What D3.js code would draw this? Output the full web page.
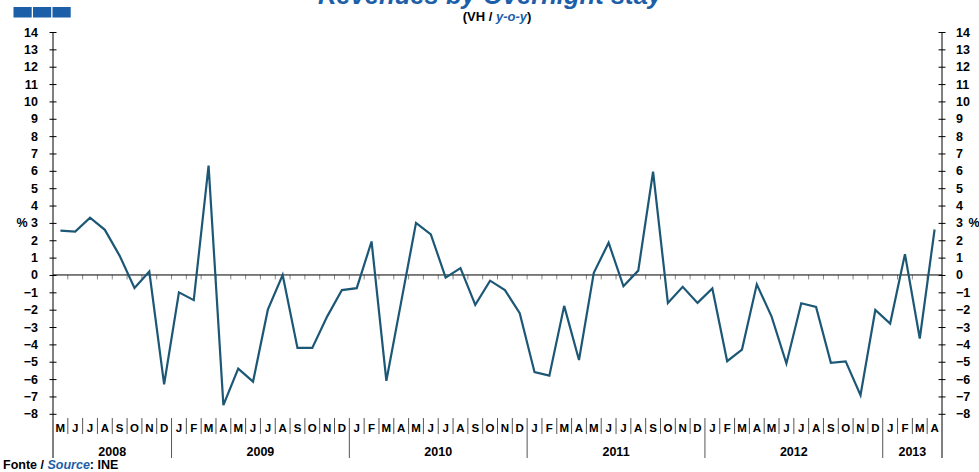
<!DOCTYPE html>
<html>
<head>
<meta charset="utf-8">
<script src="https://cdn.jsdelivr.net/npm/d3@7"></script>
<style>
  html, body { margin: 0; padding: 0; background: #fff; }
  svg { display: block; font-family: "Liberation Sans", Arial, sans-serif; }
</style>
</head>
<body>
<svg id="chart" width="979" height="472"></svg>
<script>
// Monthly periods, May 2008 – April 2013
const periods = [
  "2008-05","2008-06","2008-07","2008-08","2008-09","2008-10","2008-11","2008-12",
  "2009-01","2009-02","2009-03","2009-04","2009-05","2009-06","2009-07","2009-08","2009-09","2009-10","2009-11","2009-12",
  "2010-01","2010-02","2010-03","2010-04","2010-05","2010-06","2010-07","2010-08","2010-09","2010-10","2010-11","2010-12",
  "2011-01","2011-02","2011-03","2011-04","2011-05","2011-06","2011-07","2011-08","2011-09","2011-10","2011-11","2011-12",
  "2012-01","2012-02","2012-03","2012-04","2012-05","2012-06","2012-07","2012-08","2012-09","2012-10","2012-11","2012-12",
  "2013-01","2013-02","2013-03","2013-04"
];

// Revenue per overnight stay, year-on-year change (%)
const revenueYoY = [
  2.55, 2.5, 3.3, 2.6, 1.1, -0.75, 0.2, -6.3,
  -1.0, -1.45, 6.3, -7.5, -5.4, -6.15, -2.0, 0.0, -4.2, -4.2, -2.4, -0.87,
  -0.76, 1.93, -6.1, -1.55, 3.0, 2.34, -0.15, 0.4, -1.72, -0.33, -0.87, -2.2,
  -5.6, -5.8, -1.78, -4.9, 0.12, 1.86, -0.65, 0.25, 5.95, -1.62, -0.68, -1.61,
  -0.78, -4.97, -4.3, -0.54, -2.4, -5.1, -1.63, -1.84, -5.06, -4.98, -6.93, -2.02,
  -2.8, 1.2, -3.66, 2.62
];

const monthInitials = ["J","F","M","A","M","J","J","A","S","O","N","D"];
const yTicks = [-8,-7,-6,-5,-4,-3,-2,-1,0,1,2,3,4,5,6,7,8,9,10,11,12,13,14];

const titleText = "Revenues by Overnight stay";
const sourceLabel = "INE";

const svg = d3.select("#chart");
const plotLeft = 53, plotRight = 942, plotTop = 32, plotBottom = 413.8;
const navy = "#1d5ea8";
const lineColor = "#1c5876";

const x = d3.scaleBand().domain(periods).range([plotLeft, plotRight]).paddingInner(0).paddingOuter(0);
const y = d3.scaleLinear().domain([-8, 14]).range([plotBottom, plotTop]);
const bw = x.bandwidth();

// Header blocks
svg.append("g").selectAll("rect").data([0, 1, 2]).join("rect")
  .attr("x", d => 13.5 + d * 19.5).attr("y", 7)
  .attr("width", 18.2).attr("height", 10.5)
  .attr("fill", navy);

// Title (partially above the top edge)
svg.append("text")
  .attr("x", 490).attr("y", 4)
  .attr("text-anchor", "middle")
  .attr("font-size", 25.6).attr("font-weight", "bold").attr("font-style", "italic")
  .attr("fill", navy)
  .text(titleText);

const sub = svg.append("text")
  .attr("x", 497).attr("y", 20.5)
  .attr("text-anchor", "middle")
  .attr("font-size", 13).attr("font-weight", "bold").attr("fill", "#000");
sub.append("tspan").text("(VH / ");
sub.append("tspan").attr("fill", navy).attr("font-style", "italic").text("y-o-y");
sub.append("tspan").text(")");

// Y axes (left and right)
const axisFont = g => g.selectAll("text")
  .attr("font-size", 12.5).attr("font-weight", "bold").attr("fill", "#000")
  .attr("font-family", "'Liberation Sans', Arial, sans-serif");

const yLeft = svg.append("g").attr("transform", `translate(${plotLeft},0)`)
  .call(d3.axisLeft(y).tickValues(yTicks).tickFormat(d3.format("d")).tickSizeOuter(0).tickSizeInner(4).tickPadding(11));
yLeft.select(".domain").remove();
yLeft.selectAll(".tick line").attr("x1", -3.5).attr("x2", 3.5).attr("stroke", "#000");
yLeft.call(axisFont);

const yRight = svg.append("g").attr("transform", `translate(${plotRight},0)`)
  .call(d3.axisRight(y).tickValues(yTicks).tickFormat(d3.format("d")).tickSizeOuter(0).tickSizeInner(4).tickPadding(10));
yRight.select(".domain").remove();
yRight.selectAll(".tick line").attr("x1", -3.5).attr("x2", 3.5).attr("stroke", "#000");
yRight.call(axisFont);

// Vertical axis lines, extended through the category rows
[plotLeft, plotRight].forEach(px => {
  svg.append("line").attr("x1", px).attr("x2", px)
    .attr("y1", y(14)).attr("y2", 458)
    .attr("stroke", "#000").attr("stroke-width", 1);
});

// Unit labels
svg.append("text").attr("x", 22).attr("y", y(3) + 4.5)
  .attr("text-anchor", "middle").attr("font-size", 12.5).attr("font-weight", "bold").text("%");
svg.append("text").attr("x", 974).attr("y", y(3) + 4.5)
  .attr("text-anchor", "middle").attr("font-size", 12.5).attr("font-weight", "bold").text("%");

// Zero line with small month ticks
const boundaries = periods.slice(1).map(p => x(p));
svg.append("g").selectAll("line").data(boundaries).join("line")
  .attr("x1", d => d).attr("x2", d => d)
  .attr("y1", y(0)).attr("y2", y(0) + 4.5)
  .attr("stroke", "#888").attr("stroke-width", 1);
svg.append("line").attr("x1", plotLeft).attr("x2", plotRight)
  .attr("y1", y(0)).attr("y2", y(0))
  .attr("stroke", "#000").attr("stroke-width", 1);

// Category axis: month initials and years
const monthRowTop = 418, monthRowBottom = 434, yearRowBottom = 458;
const isYearStart = p => p.endsWith("-01");
svg.append("g").selectAll("line").data(periods.slice(1)).join("line")
  .attr("x1", p => x(p)).attr("x2", p => x(p))
  .attr("y1", monthRowTop)
  .attr("y2", p => isYearStart(p) ? yearRowBottom : monthRowBottom)
  .attr("stroke", "#555").attr("stroke-width", 1);

svg.append("g").selectAll("text").data(periods).join("text")
  .attr("x", p => x(p) + bw / 2).attr("y", 431.5)
  .attr("text-anchor", "middle")
  .attr("font-size", 11.5).attr("font-weight", "bold").attr("fill", "#000")
  .text(p => monthInitials[+p.slice(5) - 1]);

const yearGroups = d3.groups(periods, p => p.slice(0, 4));
svg.append("g").selectAll("text").data(yearGroups).join("text")
  .attr("x", ([, ps]) => (x(ps[0]) + x(ps[ps.length - 1]) + bw) / 2)
  .attr("y", 456)
  .attr("text-anchor", "middle")
  .attr("font-size", 12.5).attr("font-weight", "bold").attr("fill", "#000")
  .text(([yr]) => yr);

// Series line
const line = d3.line()
  .x((d, i) => x(periods[i]) + bw / 2)
  .y(d => y(d));
svg.append("path").datum(revenueYoY)
  .attr("d", line)
  .attr("fill", "none").attr("stroke", lineColor)
  .attr("stroke-width", 2.2).attr("stroke-linejoin", "miter");

// Source note
const src = svg.append("text").attr("x", 3).attr("y", 469)
  .attr("font-size", 12.5).attr("font-weight", "bold").attr("fill", "#000");
src.append("tspan").text("Fonte / ");
src.append("tspan").attr("fill", navy).attr("font-style", "italic").text("Source");
src.append("tspan").text(": " + sourceLabel);
</script>
</body>
</html>
